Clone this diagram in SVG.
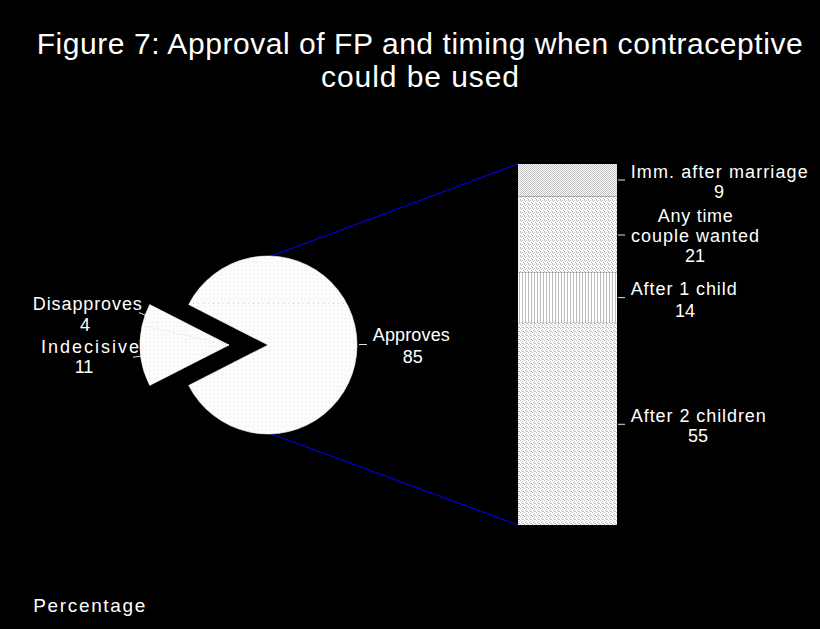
<svg xmlns="http://www.w3.org/2000/svg" width="820" height="629" viewBox="0 0 820 629">
  <style>
    .t { font-family: "Liberation Sans", Arial, sans-serif; fill: #ffffff; }
    .title { font-size: 30px; }
    .lbl { font-size: 18px; text-anchor: middle; }
    .tick { stroke: #e0e0e0; stroke-width: 1; fill: none; }
    .link { stroke: #0000e0; stroke-width: 1.2; fill: none; }
    .slice { fill: url(#pieFill); stroke: #fcfcfc; stroke-width: 0.6; stroke-linejoin: round; }
  </style>
  <defs>
    <!-- shading fills -->
    <pattern id="pieFill" width="4" height="4" patternUnits="userSpaceOnUse">
      <rect width="4" height="4" fill="#fcfcfc"/>
      <rect x="1" y="2" width="1" height="1" fill="#e2e2e2"/>
    </pattern>
    <pattern id="fillImm" width="2" height="2" patternUnits="userSpaceOnUse">
      <rect width="2" height="2" fill="#ffffff"/>
      <rect x="0" y="0" width="1" height="1" fill="#c0c0c0"/>
      <rect x="1" y="1" width="1" height="1" fill="#c0c0c0"/>
    </pattern>
    <pattern id="fillAny" width="4" height="4" patternUnits="userSpaceOnUse">
      <rect width="4" height="4" fill="#ffffff"/>
      <rect x="0" y="0" width="1" height="1" fill="#bdbdbd"/>
      <rect x="2" y="0" width="1" height="1" fill="#bdbdbd"/>
      <rect x="1" y="1" width="1" height="1" fill="#bdbdbd"/>
      <rect x="3" y="2" width="1" height="1" fill="#bdbdbd"/>
      <rect x="0" y="3" width="1" height="1" fill="#bdbdbd"/>
    </pattern>
    <pattern id="fillOne" width="3" height="4" patternUnits="userSpaceOnUse">
      <rect width="3" height="4" fill="#ffffff"/>
      <rect x="0" y="0" width="1" height="4" fill="#bdbdbd"/>
    </pattern>
    <pattern id="fillTwo" width="4" height="4" patternUnits="userSpaceOnUse">
      <rect width="4" height="4" fill="#ffffff"/>
      <rect x="0" y="0" width="1" height="1" fill="#bdbdbd"/>
      <rect x="2" y="1" width="1" height="1" fill="#bdbdbd"/>
      <rect x="1" y="2" width="1" height="1" fill="#bdbdbd"/>
      <rect x="3" y="3" width="1" height="1" fill="#bdbdbd"/>
      <rect x="2" y="3" width="1" height="1" fill="#bdbdbd"/>
    </pattern>
  </defs>

  <rect width="820" height="629" fill="#000000"/>

  <!-- title -->
  <g id="title">
    <text class="t title" x="36.7" y="54" textLength="766" lengthAdjust="spacing">Figure 7: Approval of FP and timing when contraceptive</text>
    <text class="t title" x="420" y="87" text-anchor="middle" textLength="198" lengthAdjust="spacing">could be used</text>
  </g>

  <!-- connectors from the pie to the stacked bar -->
  <g id="connectors">
    <line class="link" x1="270" y1="256.5" x2="518" y2="164"/>
    <line class="link" x1="270" y1="433.5" x2="518" y2="525"/>
  </g>

  <!-- pie: approves slice -->
  <g id="approves">
    <path class="slice" d="M268,345 L188.7,304.6 A89,89 0 1 1 188.7,385.4 Z"/>
    <line x1="193" y1="303.5" x2="347" y2="303.5" stroke="#cfcfcf" stroke-width="1" stroke-dasharray="1,4"/>
    <line class="tick" x1="359" y1="344.5" x2="367" y2="344.5"/>
    <text class="t lbl" x="411.3" y="340.5" textLength="77" lengthAdjust="spacing">Approves</text>
    <text class="t lbl" x="412.7" y="362.5">85</text>
  </g>

  <!-- pie: exploded slices -->
  <g id="disapproves">
    <path class="slice" d="M229,345 L149.7,304.6 A89,89 0 0 0 142.1,325.6 Z"/>
    <line class="tick" x1="145" y1="315" x2="139" y2="312.6"/>
    <text class="t lbl" x="87.3" y="310" textLength="109" lengthAdjust="spacing">Disapproves</text>
    <text class="t lbl" x="85" y="331">4</text>
  </g>
  <g id="indecisive">
    <path class="slice" d="M229,345 L142.1,325.6 A89,89 0 0 0 149.7,385.4 Z"/>
    <line class="tick" x1="140.7" y1="356.2" x2="133" y2="357.2"/>
    <text class="t lbl" x="90" y="353" textLength="98" lengthAdjust="spacing">Indecisive</text>
    <text class="t lbl" x="84" y="373">11</text>
  </g>

  <!-- stacked bar of timing -->
  <g id="imm-after-marriage">
    <rect x="518" y="164" width="99" height="32.5" fill="url(#fillImm)"/>
    <line class="tick" x1="618" y1="180" x2="625" y2="180"/>
    <text class="t lbl" x="719.2" y="178.3" textLength="177" lengthAdjust="spacing">Imm. after marriage</text>
    <text class="t lbl" x="719" y="198.3">9</text>
  </g>
  <g id="any-time">
    <rect x="518" y="196.5" width="99" height="75.8" fill="url(#fillAny)"/>
    <line class="tick" x1="618" y1="235" x2="625" y2="235"/>
    <text class="t lbl" x="695.3" y="221.7" textLength="75" lengthAdjust="spacing">Any time</text>
    <text class="t lbl" x="695" y="242.3" textLength="128" lengthAdjust="spacing">couple wanted</text>
    <text class="t lbl" x="695" y="262.3">21</text>
  </g>
  <g id="after-1-child">
    <rect x="518" y="272.3" width="99" height="50.6" fill="url(#fillOne)"/>
    <line class="tick" x1="618" y1="297.6" x2="625" y2="297.6"/>
    <text class="t lbl" x="683.7" y="295" textLength="106" lengthAdjust="spacing">After 1 child</text>
    <text class="t lbl" x="685" y="316.7">14</text>
  </g>
  <g id="after-2-children">
    <rect x="518" y="322.9" width="99" height="202.1" fill="url(#fillTwo)"/>
    <line class="tick" x1="618" y1="424.3" x2="625" y2="424.3"/>
    <text class="t lbl" x="698.3" y="421.7" textLength="135" lengthAdjust="spacing">After 2 children</text>
    <text class="t lbl" x="698" y="441.7">55</text>
  </g>

  <!-- axis caption -->
  <g id="caption">
    <text class="t" x="33.3" y="612.3" font-size="19" textLength="112" lengthAdjust="spacing">Percentage</text>
  </g>
</svg>
